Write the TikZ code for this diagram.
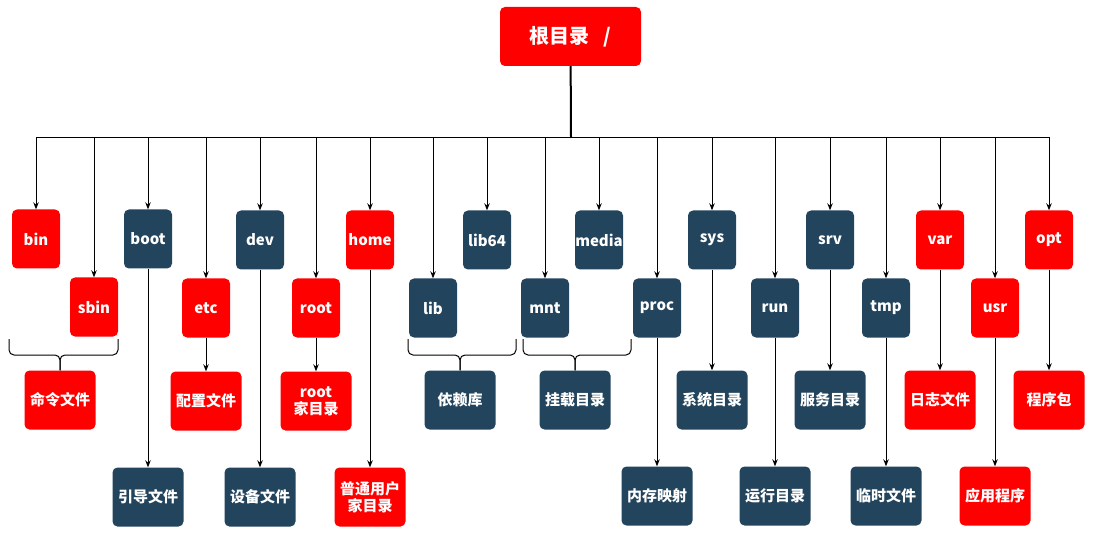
\documentclass[tikz,border=0pt]{standalone}
\usepackage{fontspec}
\newfontfamily\cjk{Noto Sans CJK SC}
\usetikzlibrary{arrows.meta}
\definecolor{dirred}{HTML}{FF0000}
\definecolor{dirblue}{HTML}{23445D}

\begin{document}
\begin{tikzpicture}[
  x=1pt, y=-1pt,
  dir/.style={rounded corners=5pt, inner sep=0pt, minimum width=48pt, minimum height=59pt, text=white, align=center, font=\cjk\bfseries\fontsize{15}{17}\selectfont},
  hotdir/.style={dir, fill=dirred},
  colddir/.style={dir, fill=dirblue},
  hotleaf/.style={hotdir, minimum width=71pt},
  coldleaf/.style={colddir, minimum width=71pt},
  link/.style={line width=1pt},
  >={Stealth[length=7pt,width=5.5pt]}
]
\useasboundingbox (0,0) rectangle (1100,545);

\node[hotdir, minimum width=141pt, font=\cjk\bfseries\fontsize{20}{23}\selectfont] (rootdir) at (570.5,36.5) {根目录\ \ \ /};

\node[hotdir] (bin) at (36,239) {bin};
\node[colddir] (boot) at (148,239) {boot};
\node[colddir] (dev) at (260,240) {dev};
\node[hotdir] (home) at (370,240) {home};
\node[colddir] (lib64) at (487,240) {lib64};
\node[colddir] (media) at (599,240) {media};
\node[colddir] (sys) at (712,240) {sys};
\node[colddir] (srv) at (830,240) {srv};
\node[hotdir] (var) at (940,240) {var};
\node[hotdir] (opt) at (1049,240) {opt};

\node[hotdir] (sbin) at (94,307) {sbin};
\node[hotdir] (etc) at (206,308) {etc};
\node[hotdir] (root) at (316,308) {root};
\node[colddir] (lib) at (433,308) {lib};
\node[colddir] (mnt) at (545,308) {mnt};
\node[colddir] (proc) at (657,308) {proc};
\node[colddir] (run) at (775,308) {run};
\node[colddir] (tmp) at (886,308) {tmp};
\node[hotdir] (usr) at (995,308) {usr};

\node[hotleaf] (cmdfiles) at (60,400) {命令文件};
\node[hotleaf] (etcfiles) at (206,401) {配置文件};
\node[hotleaf] (roothome) at (316,401) {root\\家目录};
\node[coldleaf] (libfiles) at (460,400) {依赖库};
\node[coldleaf] (mntfiles) at (575,400) {挂载目录};
\node[coldleaf] (sysfiles) at (712,400) {系统目录};
\node[coldleaf] (srvfiles) at (830,400) {服务目录};
\node[hotleaf] (varfiles) at (940,400) {日志文件};
\node[hotleaf] (optfiles) at (1049,400) {程序包};

\node[coldleaf] (bootfiles) at (148,497) {引导文件};
\node[coldleaf] (devfiles) at (260,497) {设备文件};
\node[hotleaf] (homefiles) at (370,497) {普通用户\\家目录};
\node[coldleaf] (procfiles) at (657,496) {内存映射};
\node[coldleaf] (runfiles) at (775,496) {运行目录};
\node[coldleaf] (tmpfiles) at (886,496) {临时文件};
\node[hotleaf] (usrfiles) at (995,496) {应用程序};

\coordinate (hub) at (571,138);
\coordinate (bracebar) at (0,355);

\draw[line width=2pt] (rootdir) -- (hub);
\foreach \d in {bin,sbin,boot,etc,dev,root,home,lib,lib64,mnt,media,proc,sys,run,srv,tmp,var,usr,opt}
  \draw[link, ->] (hub) -| (\d.north);
\foreach \p/\c in {boot/bootfiles,etc/etcfiles,dev/devfiles,root/roothome,home/homefiles,proc/procfiles,sys/sysfiles,run/runfiles,srv/srvfiles,tmp/tmpfiles,var/varfiles,usr/usrfiles,opt/optfiles}
  \draw[link, ->] (\p) -- (\c);
\foreach \l/\r/\t in {9/118/cmdfiles,408/516/libfiles,523/631/mntfiles} {
  \draw[link, rounded corners=5pt] (\l,339) |- (\t.north |- bracebar) -- (\t.north);
  \draw[link, rounded corners=5pt] (\r,339) |- (\t.north |- bracebar) -- (\t.north);
}
\end{tikzpicture}
\end{document}
